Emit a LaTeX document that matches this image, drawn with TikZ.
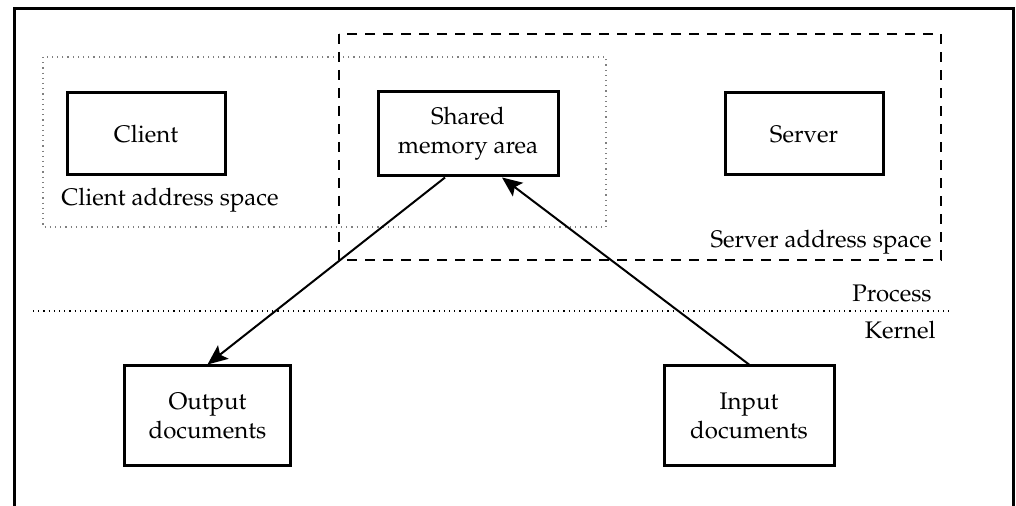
\documentclass[tikz,border=0pt]{standalone}
\usepackage[T1]{fontenc}
\usepackage{mathpazo}
\usepackage{tikz}
\usetikzlibrary{arrows.meta}

\begin{document}
\begin{tikzpicture}[x=0.5pt,y=-0.5pt,>={Stealth[length=10pt,width=8.5pt,inset=2pt]},
  node distance=161pt,font=\fontsize{12}{14.5}\selectfont,
  main node/.style={rectangle,draw,line width=1.5pt,align=center,
    minimum width=79pt,minimum height=41pt,inner sep=2pt},
  doc node/.style={main node,minimum width=83pt,minimum height=50pt},
  label node/.style={inner sep=0pt}]

  \useasboundingbox (0,0) rectangle (1016,506);

  % frame, open at the bottom
  \draw[line width=1.5pt] (14,506) -- (14,9) -- (1013,9) -- (1013,506);

  % address spaces
  \draw[gray,dotted,line width=0.6pt] (43,57) rectangle (606,227);
  \draw[line width=0.8pt,dash pattern=on 5pt off 4pt] (339,34) rectangle (941,260);

  \node[main node] (client) at (146,134) {Client};
  \node[main node,minimum width=90pt,minimum height=42pt] (shared) [right of=client] {Shared\\memory area};
  \node[main node] (server) [right of=shared, node distance=168pt] {Server};
  \node[doc node] (output) at (207.5,416) {Output\\documents};
  \node[doc node,minimum width=85pt] (input) at (749,416) {Input\\documents};

  \node[label node] (clientspace) at (170,200) {Client address space};
  \node[label node,anchor=east] (serverspace) at (932,242) {Server address space};

  % process / kernel boundary
  \coordinate (lineL) at (33,311);
  \coordinate (lineR) at (949,311);
  \draw[dotted,line width=0.6pt] (lineL) -- (lineR);
  \node[label node,anchor=east] (process) at (932,293) {Process};
  \node[label node,anchor=east] (kernel) at (936,330) {Kernel};

  \draw[->,line width=1pt] ([xshift=-11.5pt]shared.south) -- (output.north);
  \draw[->,line width=1pt] (input.north) -- ([xshift=17pt]shared.south);

\end{tikzpicture}
\end{document}
